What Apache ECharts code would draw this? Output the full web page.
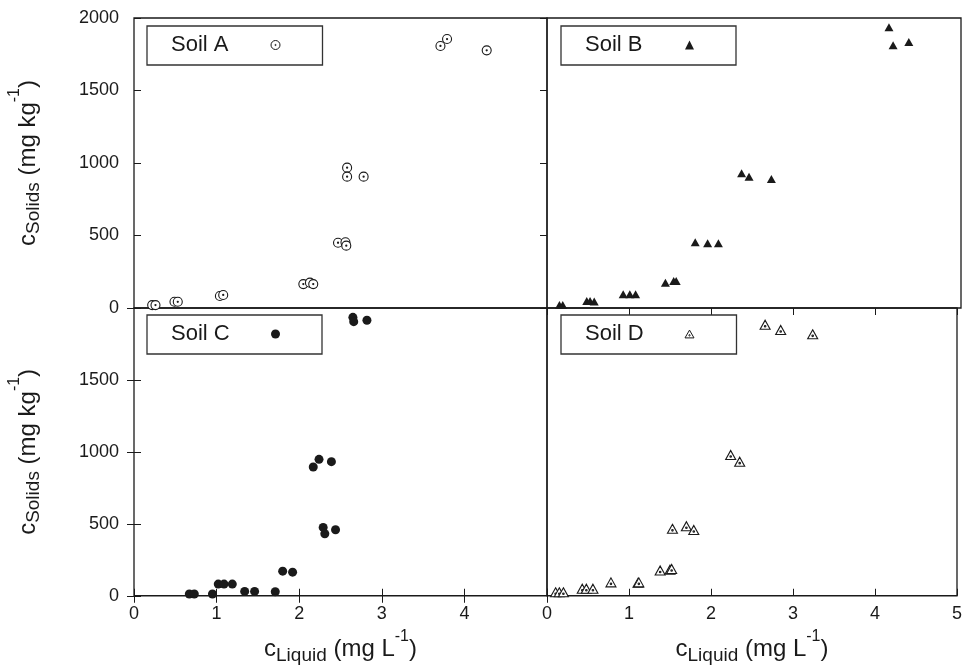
<!DOCTYPE html>
<html>
<head>
<meta charset="utf-8">
<script src="https://cdn.jsdelivr.net/npm/echarts@6/dist/echarts.min.js"></script>
<style>
html,body{margin:0;padding:0;background:#fff;}
#chart{width:965px;height:666px;}
</style>
</head>
<body>
<div id="chart"></div>
<script>
// ---- data ----
const soilA_x = [0.22, 0.26, 0.49, 0.53, 1.04, 1.08, 2.05, 2.13, 2.17, 2.47, 2.56, 2.57, 2.58, 2.58, 2.78, 3.71, 3.79, 4.27];
const soilA_y = [20, 20, 43, 43, 83, 90, 165, 175, 165, 450, 453, 430, 968, 906, 906, 1807, 1855, 1777];

const soilB_x = [0.15, 0.19, 0.48, 0.52, 0.57, 0.92, 1.00, 1.07, 1.43, 1.53, 1.56, 1.79, 1.94, 2.07, 2.35, 2.44, 2.71, 4.13, 4.18, 4.37];
const soilB_y = [20, 20, 48, 48, 45, 94, 94, 94, 175, 186, 186, 453, 446, 446, 929, 906, 890, 1936, 1812, 1834];

const soilC_x = [0.67, 0.73, 0.95, 1.02, 1.09, 1.19, 1.34, 1.46, 1.71, 1.80, 1.92, 2.29, 2.31, 2.44, 2.17, 2.24, 2.39, 2.65, 2.66, 2.82];
const soilC_y = [12, 12, 12, 81, 81, 81, 30, 30, 28, 171, 164, 475, 431, 459, 895, 948, 932, 1935, 1905, 1915];

const soilD_x = [0.105, 0.15, 0.20, 0.43, 0.48, 0.56, 0.78, 1.11, 1.12, 1.38, 1.50, 1.52, 1.53, 1.70, 1.79, 2.24, 2.35, 2.66, 2.85, 3.24];
const soilD_y = [24, 24, 24, 49, 49, 49, 93, 90, 93, 176, 181, 186, 465, 483, 457, 978, 932, 1884, 1847, 1817];

const seriesNames = ['Soil A', 'Soil B', 'Soil C', 'Soil D'];
const yTicks = [0, 500, 1000, 1500, 2000];
const xTicks = [0, 1, 2, 3, 4, 5];

// ---- styling ----
const FONT = 'Liberation Sans, Arial, Helvetica, sans-serif';
const INK = '#1a1a1a';
const zip = (xs, ys) => xs.map((x, i) => [x, ys[i]]);

const circleDot = 'path://M10,0A10,10,0,1,1,-10,0A10,10,0,1,1,10,0ZM1.3,0A1.3,1.3,0,1,1,-1.3,0A1.3,1.3,0,1,1,1.3,0Z';
const triDot = 'path://M0,-10L8.66,5L-8.66,5ZM1.3,0A1.3,1.3,0,1,1,-1.3,0A1.3,1.3,0,1,1,1.3,0Z';

const grids = [
  {left: 134, top: 18, width: 413, height: 290},
  {left: 547, top: 18, width: 414, height: 290},
  {left: 134, top: 308, width: 413, height: 289},
  {left: 547, top: 308, width: 414, height: 289}
].map(g => Object.assign(g, {show: true, borderColor: INK, borderWidth: 1.3, backgroundColor: 'transparent', containLabel: false}));

const richName = {
  m: {fontSize: 24, lineHeight: 40, fontFamily: FONT, color: INK},
  s: {fontSize: 19, height: 28.5, verticalAlign: 'bottom', fontFamily: FONT, color: INK},
  p: {fontSize: 16, height: 14, verticalAlign: 'top', fontFamily: FONT, color: INK}
};
const xName = '{m|c}{s|Liquid}{m| (mg L}{p|-1}{m|)}';
const yName = '{m|c}{s|Solids}{m| (mg kg}{p|-1}{m|)}';

const tick = {show: true, inside: true, length: 7, lineStyle: {color: INK, width: 1}};
const lbl = (hideVal) => ({
  show: true, fontSize: 18, fontFamily: FONT, color: INK,
  formatter: v => (v === hideVal ? '' : String(v))
});

const xAxes = [
  {gridIndex: 0, type: 'value', min: 0, max: 5, interval: 1, show: false},
  {gridIndex: 1, type: 'value', min: 0, max: 5, interval: 1, show: false},
  {gridIndex: 2, type: 'value', min: 0, max: 5, interval: 1, position: 'bottom',
   axisLine: {show: false}, splitLine: {show: false}, axisTick: tick,
   axisLabel: Object.assign(lbl(5), {margin: 9}),
   name: xName, nameLocation: 'middle', nameGap: 34, nameTextStyle: {rich: richName}},
  {gridIndex: 3, type: 'value', min: 0, max: 5, interval: 1, position: 'bottom',
   axisLine: {show: false}, splitLine: {show: false}, axisTick: tick,
   axisLabel: Object.assign(lbl(null), {margin: 9}),
   name: xName, nameLocation: 'middle', nameGap: 34, nameTextStyle: {rich: richName}},
  {gridIndex: 2, type: 'value', min: 0, max: 5, interval: 1, position: 'top',
   axisLine: {show: false}, splitLine: {show: false}, axisTick: tick, axisLabel: {show: false}},
  {gridIndex: 3, type: 'value', min: 0, max: 5, interval: 1, position: 'top',
   axisLine: {show: false}, splitLine: {show: false}, axisTick: tick, axisLabel: {show: false}}
];

const yAxes = [
  {gridIndex: 0, type: 'value', min: 0, max: 2000, interval: 500, position: 'left',
   axisLine: {show: false}, splitLine: {show: false}, axisTick: tick,
   axisLabel: Object.assign(lbl(null), {margin: 15}),
   name: yName, nameLocation: 'middle', nameRotate: 90, nameGap: 86, nameTextStyle: {rich: richName}},
  {gridIndex: 1, type: 'value', min: 0, max: 2000, interval: 500, show: false},
  {gridIndex: 2, type: 'value', min: 0, max: 2000, interval: 500, position: 'left',
   axisLine: {show: false}, splitLine: {show: false}, axisTick: tick,
   axisLabel: Object.assign(lbl(2000), {margin: 15}),
   name: yName, nameLocation: 'middle', nameRotate: 90, nameGap: 86, nameTextStyle: {rich: richName}},
  {gridIndex: 3, type: 'value', min: 0, max: 2000, interval: 500, show: false},
  {gridIndex: 0, type: 'value', min: 0, max: 2000, interval: 500, position: 'right',
   axisLine: {show: false}, splitLine: {show: false}, axisTick: tick, axisLabel: {show: false}},
  {gridIndex: 2, type: 'value', min: 0, max: 2000, interval: 500, position: 'right',
   axisLine: {show: false}, splitLine: {show: false}, axisTick: tick, axisLabel: {show: false}}
];

const openStyle = {color: '#ffffff', borderColor: INK, borderWidth: 1.1, opacity: 1};
const fillStyle = {color: INK, borderWidth: 0, opacity: 1};
const legendOpen = {color: '#ffffff', borderColor: INK, borderWidth: 1};
const legendFill = {color: INK, borderWidth: 0};

const series = [
  {name: seriesNames[0], type: 'scatter', xAxisIndex: 0, yAxisIndex: 0, data: zip(soilA_x, soilA_y),
   symbol: circleDot, symbolSize: 9, itemStyle: openStyle},
  {name: seriesNames[1], type: 'scatter', xAxisIndex: 1, yAxisIndex: 1, data: zip(soilB_x, soilB_y),
   symbol: 'triangle', symbolSize: [9, 8], itemStyle: fillStyle},
  {name: seriesNames[2], type: 'scatter', xAxisIndex: 2, yAxisIndex: 2, data: zip(soilC_x, soilC_y),
   symbol: 'circle', symbolSize: 9, itemStyle: fillStyle},
  {name: seriesNames[3], type: 'scatter', xAxisIndex: 3, yAxisIndex: 3, data: zip(soilD_x, soilD_y),
   symbol: triDot, symbolSize: [10, 9], itemStyle: openStyle}
].map(s => Object.assign(s, {emphasis: {disabled: true}, animation: false}));

const legendPos = [
  {left: 147, top: 26, itemStyle: legendOpen},
  {left: 561, top: 26, itemStyle: legendFill},
  {left: 147, top: 315, itemStyle: legendFill},
  {left: 561, top: 315, itemStyle: legendOpen}
];
const legends = seriesNames.map((n, i) => Object.assign({
  data: [n], orient: 'horizontal', align: 'right', selectedMode: false,
  padding: [8, 42, 9, 24], borderColor: '#333', borderWidth: 1.3, backgroundColor: '#fff',
  itemWidth: 9, itemHeight: 9, itemGap: 0,
  formatter: name => '{t|' + name + '}',
  textStyle: {fontSize: 22, fontFamily: FONT, color: INK,
    rich: {t: {width: 95, align: 'left', fontSize: 22, fontFamily: FONT, color: INK}}}
}, legendPos[i]));

const chart = echarts.init(document.getElementById('chart'), null, {renderer: 'canvas'});
chart.setOption({
  backgroundColor: '#ffffff',
  animation: false,
  grid: grids,
  xAxis: xAxes,
  yAxis: yAxes,
  legend: legends,
  series: series
});
</script>
</body>
</html>
